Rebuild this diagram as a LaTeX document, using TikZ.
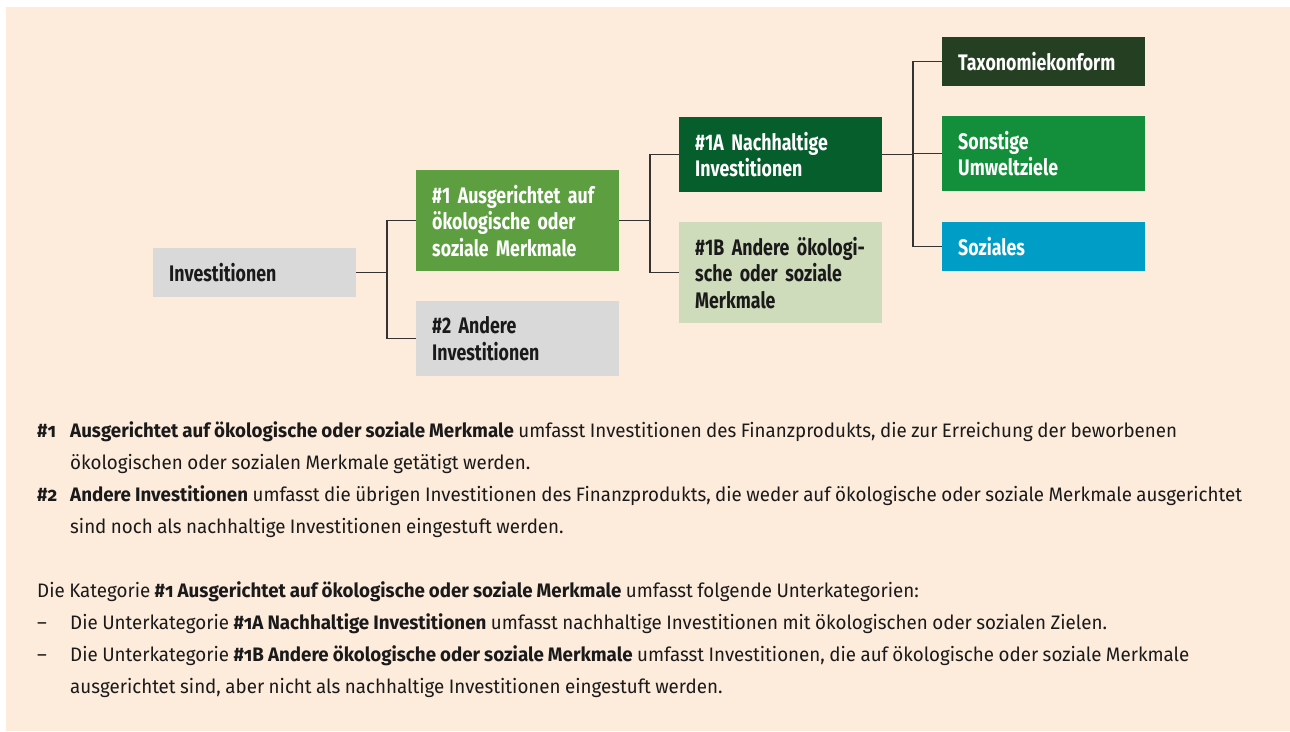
\documentclass[tikz,border=0pt]{standalone}
\usepackage{fontspec}
\setmainfont{Fira Sans}[FakeStretch=0.962, WordSpace=0.9]
\newfontfamily\boxfont{Fira Sans}[FakeStretch=0.79, WordSpace=0.75]
\usetikzlibrary{calc}
\definecolor{peach}{HTML}{FDEBDC}
\definecolor{boxgrey}{HTML}{D9D9D9}
\definecolor{greenA}{HTML}{5C9E40}
\definecolor{greenB}{HTML}{065E2D}
\definecolor{sage}{HTML}{CFDCBC}
\definecolor{greenD}{HTML}{243F22}
\definecolor{greenC}{HTML}{138F3B}
\definecolor{cyanS}{HTML}{009EC6}
\definecolor{ink}{HTML}{1A1A1A}
\definecolor{linec}{HTML}{333333}
\newcommand{\hnum}[1]{\#{\addfontfeature{Numbers=OldStyle}#1}}
\begin{document}
\begin{tikzpicture}[x=1pt,y=-1pt,
  box/.style={rectangle, anchor=north west, inner xsep=16pt, inner ysep=0pt,
    minimum width=203pt, text width=171pt, align=left, text=ink,
    font=\boxfont\bfseries\fontsize{22.5}{26.5}\selectfont},
  wbox/.style={box, text=white},
  conn/.style={draw=linec, line width=1.3pt},
  body/.style={anchor=base west, inner sep=0pt, text=ink, font=\fontsize{19.5}{32}\selectfont}]
\useasboundingbox (0,0) rectangle (1290,731);
\fill[white] (0,0) rectangle (1290,731);
\fill[peach] (6,7) rectangle (1290,731);

\node[box, fill=boxgrey, minimum height=49pt] (inv) at (153,248) {Investitionen};
\node[wbox, fill=greenA, minimum height=101pt] (n1) at (416,170) {\#1 Ausgerichtet auf\\ökologische oder\\soziale Merkmale};
\node[box, fill=boxgrey, minimum height=75pt] (n2) at (416,301) {\#2 Andere\\Investitionen};
\node[wbox, fill=greenB, minimum height=75pt] (n1a) at (679,117) {\#1A Nachhaltige\\Investitionen};
\node[box, fill=sage, minimum height=101pt] (n1b) at (679,222) {\#1B Andere ökologi-\\sche oder soziale\\Merkmale};
\node[wbox, fill=greenD, minimum height=49pt] (tax) at (942,37) {Taxonomiekonform};
\node[wbox, fill=greenC, minimum height=75pt] (son) at (942,116) {Sonstige\\Umweltziele};
\node[wbox, fill=cyanS, minimum height=49pt] (soz) at (942,222) {Soziales};

\coordinate (j1) at ($(inv.east)+(30.5,0)$);
\coordinate (j2) at ($(n1.east)+(30.5,0)$);
\coordinate (j3) at ($(n1a.east)+(30.5,0)$);
\draw[conn] (inv.east) -- (j1);
\draw[conn] (j1) |- (n1.west);
\draw[conn] (j1) |- (n2.west);
\draw[conn] (n1.east) -- (j2);
\draw[conn] (j2) |- (n1a.west);
\draw[conn] (j2) |- (n1b.west);
\draw[conn] (n1a.east) -- (j3);
\draw[conn] (j3) |- (tax.west);
\draw[conn] (j3) |- (son.west);
\draw[conn] (j3) |- (soz.west);

\node[body] (l1) at (37,437) {\textbf{\hnum{1}}};
\node[body] (t1) at (70,437) {\textbf{Ausgerichtet auf ökologische oder soziale Merkmale} umfasst Investitionen des Finanzprodukts, die zur Erreichung der beworbenen};
\node[body] (t2) at (70,469) {ökologischen oder sozialen Merkmale getätigt werden.};
\node[body] (l2) at (37,501) {\textbf{\hnum{2}}};
\node[body] (t3) at (70,501) {\textbf{Andere Investitionen} umfasst die übrigen Investitionen des Finanzprodukts, die weder auf ökologische oder soziale Merkmale ausgerichtet};
\node[body] (t4) at (70,533) {sind noch als nachhaltige Investitionen eingestuft werden.};
\node[body] (t5) at (37,597) {Die Kategorie \textbf{\hnum{1} Ausgerichtet auf ökologische oder soziale Merkmale} umfasst folgende Unterkategorien:};
\node[body] (d1) at (37,629) {–};
\node[body] (t6) at (70,629) {Die Unterkategorie \textbf{\hnum{1}A Nachhaltige Investitionen} umfasst nachhaltige Investitionen mit ökologischen oder sozialen Zielen.};
\node[body] (d2) at (37,661) {–};
\node[body] (t7) at (70,661) {Die Unterkategorie \textbf{\hnum{1}B Andere ökologische oder soziale Merkmale} umfasst Investitionen, die auf ökologische oder soziale Merkmale};
\node[body] (t8) at (70,693) {ausgerichtet sind, aber nicht als nachhaltige Investitionen eingestuft werden.};
\end{tikzpicture}
\end{document}
